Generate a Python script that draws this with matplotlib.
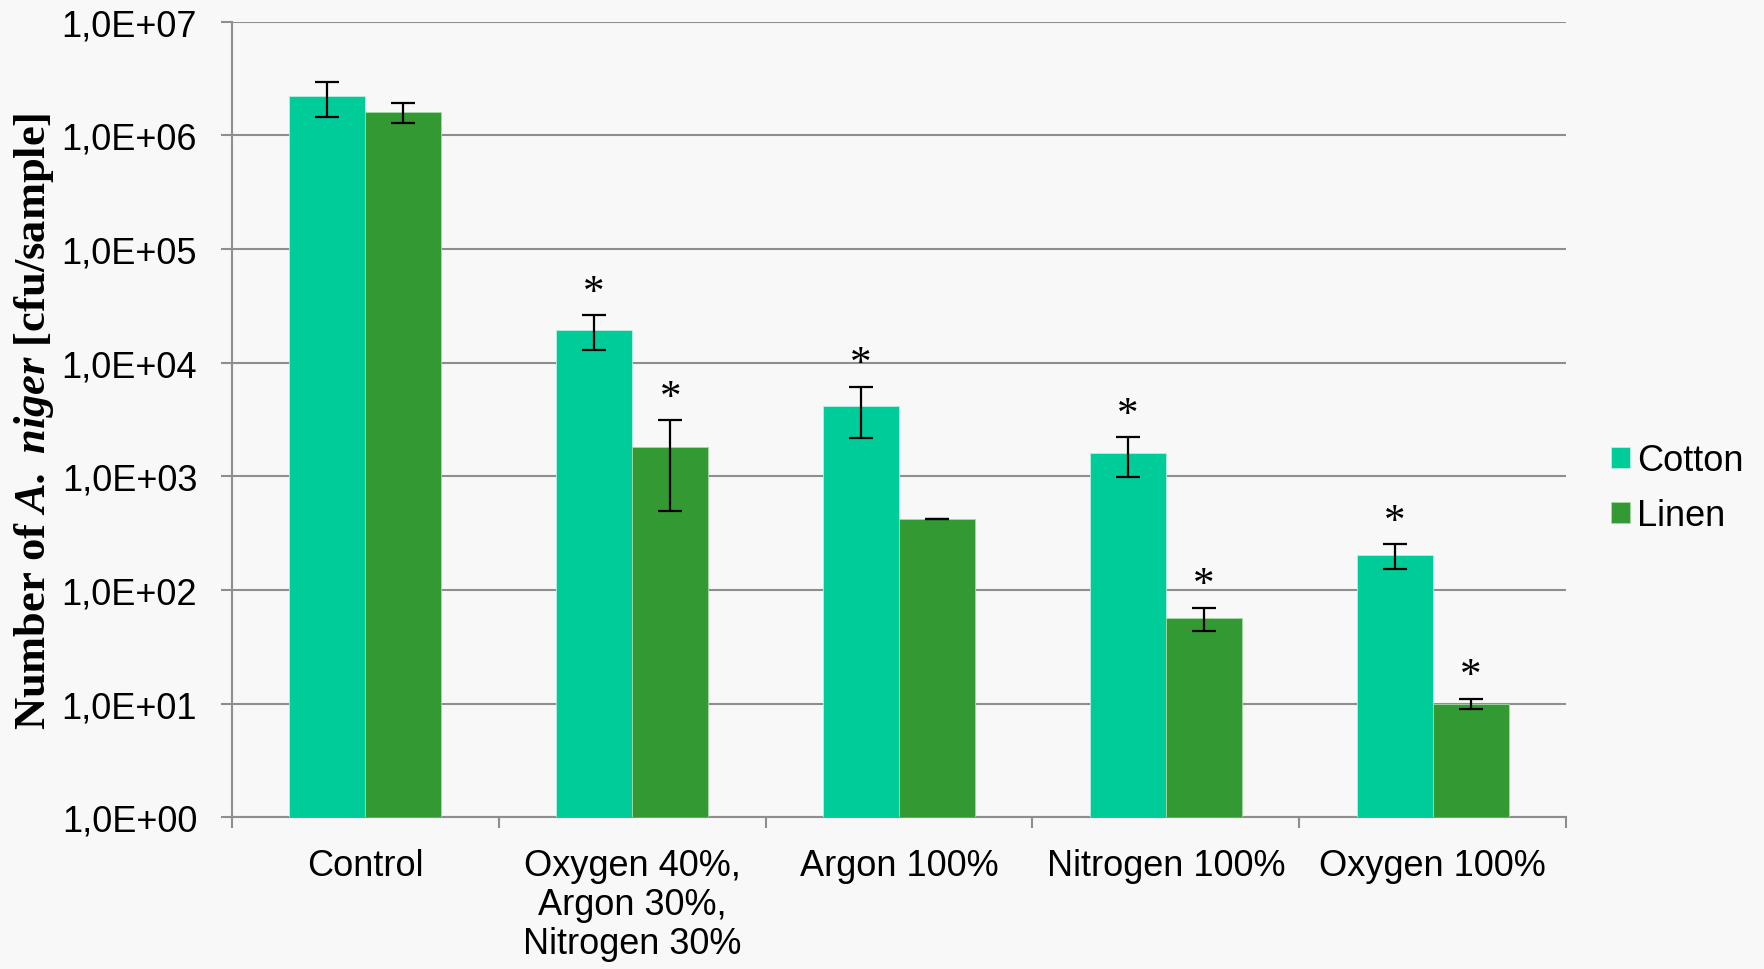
import matplotlib
matplotlib.use("Agg")
import matplotlib.pyplot as plt
import numpy as np
from matplotlib.ticker import FixedLocator, FuncFormatter, NullLocator

# Data: A. niger counts on textiles after gas treatments
categories = ["Control", "Oxygen 40%,\nArgon 30%,\nNitrogen 30%", "Argon 100%",
              "Nitrogen 100%", "Oxygen 100%"]
series_names = ["Cotton", "Linen"]
cotton = [2.2e6, 1.95e4, 4.15e3, 1.6e3, 203]
cotton_err = [7.6e5, 6.7e3, 2.0e3, 6.1e2, 50]
linen = [1.6e6, 1.8e3, 420, 57, 10]
linen_err = [3.3e5, 1.3e3, 3, 13, 1]
cotton_sig = [False, True, True, True, True]
linen_sig = [False, True, False, True, True]
y_ticks = [1e0, 1e1, 1e2, 1e3, 1e4, 1e5, 1e6, 1e7]

BG = "#f8f8f8"
COTTON_C = "#00cc99"
LINEN_C = "#339933"
GRID_C = "#8e8e8e"

plt.rcParams["font.family"] = ["Liberation Sans", "DejaVu Sans"]
plt.rcParams["mathtext.fontset"] = "custom"
plt.rcParams["mathtext.rm"] = "Liberation Serif:bold"
plt.rcParams["mathtext.bf"] = "Liberation Serif:bold"
plt.rcParams["mathtext.it"] = "Liberation Serif:italic:bold"
plt.rcParams["mathtext.bfit"] = "Liberation Serif:italic:bold"

fig = plt.figure(figsize=(17.65, 9.70), dpi=100, facecolor=BG)
ax = fig.add_axes([0.1314, 0.1563, 0.7559, 0.8205], facecolor=BG)

x = np.arange(len(categories))
w = 0.285

ax.bar(x - w / 2, cotton, width=w, color=COTTON_C, edgecolor="#bdeedd",
       linewidth=0.6, label=series_names[0], zorder=3)
ax.bar(x + w / 2, linen, width=w, color=LINEN_C, edgecolor="#a8d8a8",
       linewidth=0.6, label=series_names[1], zorder=3)

ekw = dict(fmt="none", ecolor="black", elinewidth=1.6, capsize=8.5,
           capthick=1.6, zorder=4)
ax.errorbar(x - w / 2, cotton, yerr=cotton_err, **ekw)
ax.errorbar(x + w / 2, linen, yerr=linen_err, **ekw)

# significance markers above the error bars
for xs, vals, errs, sig in [(x - w / 2, cotton, cotton_err, cotton_sig),
                            (x + w / 2, linen, linen_err, linen_sig)]:
    for xi, v, e, s in zip(xs, vals, errs, sig):
        if s:
            ax.annotate("*", xy=(xi, v + e), xytext=(0, 9),
                        textcoords="offset points", ha="center",
                        va="baseline", fontsize=31,
                        fontfamily="Liberation Serif", zorder=5)

ax.set_yscale("log")
ax.set_ylim(1e0, 1e7)
ax.set_xlim(-0.5, len(categories) - 0.5)

ax.yaxis.set_major_locator(FixedLocator(y_ticks))
ax.yaxis.set_minor_locator(NullLocator())
ax.yaxis.set_major_formatter(FuncFormatter(
    lambda v, p: "1,0E+{:02d}".format(int(round(np.log10(v))))))
ax.grid(axis="y", color=GRID_C, linewidth=1.5, zorder=0)
ax.set_axisbelow(True)

ax.set_xticks(x)
ax.set_xticklabels(categories, linespacing=1.15)
ax.set_xticks(np.arange(len(categories) + 1) - 0.5, minor=True)
ax.tick_params(axis="x", which="major", length=0, pad=22, labelsize=26)
ax.tick_params(axis="x", which="minor", length=8, width=1.5, color=GRID_C)
ax.tick_params(axis="y", which="major", length=8, width=1.5, color=GRID_C,
               pad=17, labelsize=26)

for side in ["top", "right"]:
    ax.spines[side].set_visible(False)
for side in ["left", "bottom"]:
    ax.spines[side].set_color(GRID_C)
    ax.spines[side].set_linewidth(1.5)

fig.text(0.0195, 0.5655,
         r"Number of $\mathbfit{A.}$ $\mathbfit{niger}$ [cfu/sample]",
         rotation=90, ha="center", va="center", fontsize=32,
         fontfamily="Liberation Serif", fontweight="bold")

fig.legend(loc="center left", bbox_to_anchor=(0.9127, 0.4955), frameon=False,
           fontsize=26, handlelength=0.53, handleheight=0.53,
           handletextpad=0.2, labelspacing=0.55, borderpad=0,
           borderaxespad=0)

fig.savefig("out.png", dpi=100, facecolor=BG)
